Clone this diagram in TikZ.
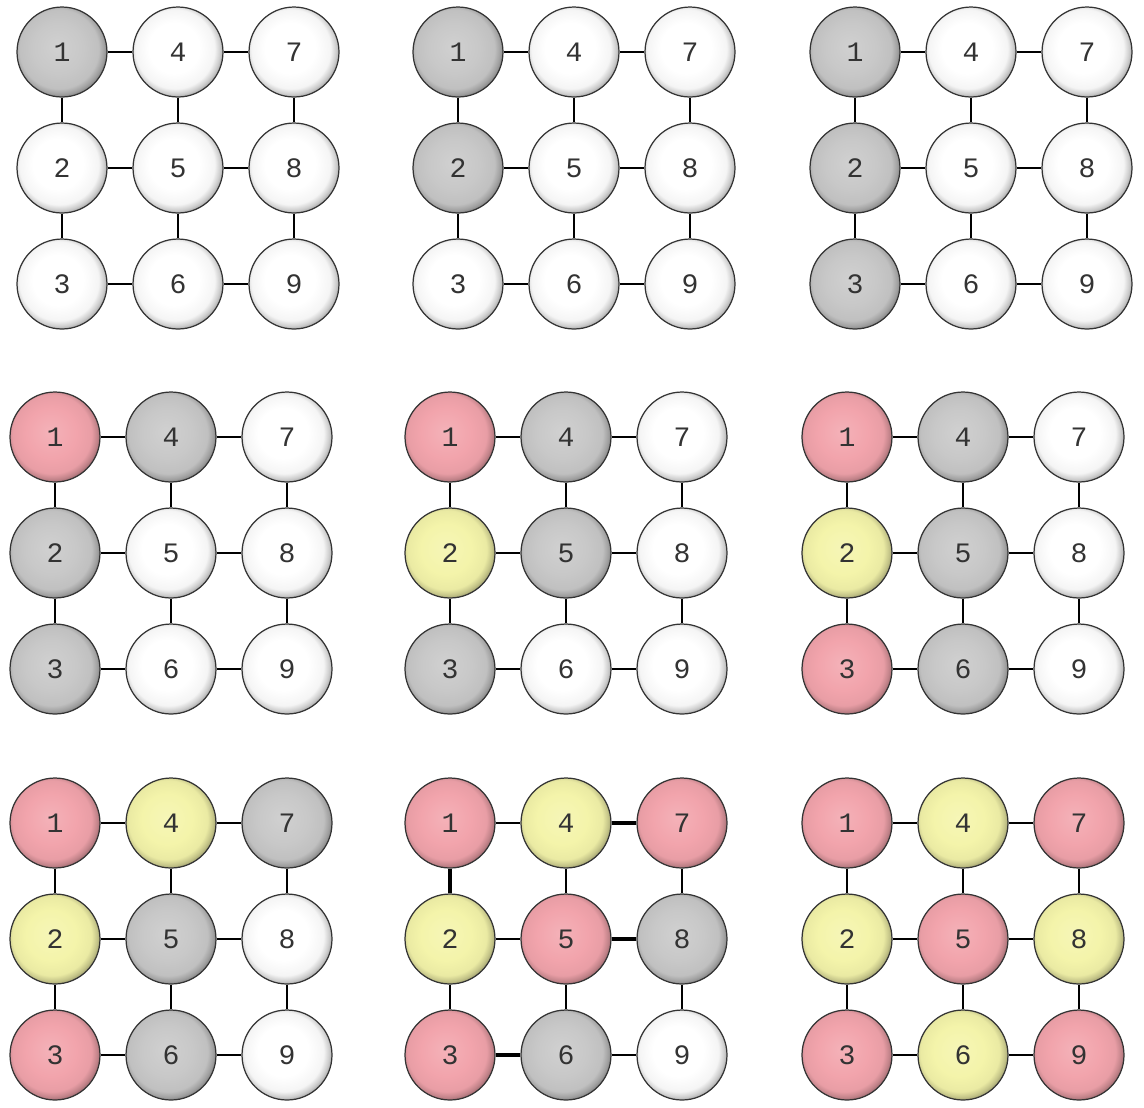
\documentclass[tikz,border=0pt]{standalone}
\usepackage{xcolor}
\usepackage{fontspec}
\usepackage{tikz}
\usetikzlibrary{positioning,calc}
\newfontfamily\ballfont{Liberation Mono}

\definecolor{ballw}{RGB}{255,255,255}
\definecolor{ballg}{RGB}{200,200,200}
\definecolor{ballr}{RGB}{242,164,172}
\definecolor{bally}{RGB}{244,244,170}
\colorlet{ballcol}{white}
% flat disc with a dark lower right rim
\pgfdeclareradialshading[ballcol]{disc}{\pgfqpoint{-3bp}{3bp}}{%
  color(0bp)=(ballcol!85!white); color(14bp)=(ballcol);
  color(22bp)=(ballcol!96!black); color(25bp)=(ballcol!80!black);
  color(29bp)=(ballcol!45!black); color(50bp)=(ballcol!45!black)}

\tikzset{
  ballcol/.code={\colorlet{ballcol}{#1}},
  ball/.style={circle,draw=black!80,line width=0.7pt,minimum size=1.8cm,
    inner sep=0pt,ballcol=#1,shading=disc,text=black!80,
    font=\ballfont\fontsize{16}{16}\selectfont},
  link/.style={line width=1.2pt},
  heavy link/.style={line width=2.2pt}
}

% one 3x3 grid: name, x and y of node 1, colours of nodes 1..9
\newcommand\gridpanel[4]{%
  \foreach \c [count=\k] in {#4} {
    \pgfmathtruncatemacro\col{(\k-1)/3}
    \pgfmathtruncatemacro\row{mod(\k-1,3)}
    \node[ball=ball\c] (#1-\k) at (#2+116*\col,#3+116*\row) {\k};
  }
  \foreach \a/\b in {1/4,4/7,2/5,5/8,3/6,6/9,1/2,2/3,4/5,5/6,7/8,8/9}
    \draw[link] (#1-\a) -- (#1-\b);
}

\begin{document}
\begin{tikzpicture}[x=0.02cm,y=-0.02cm]
  \useasboundingbox (0,0) rectangle (1144,1107);
  % first row
  \gridpanel{p1}{62}{52}{g,w,w,w,w,w,w,w,w}
  \gridpanel{p2}{458}{52}{g,g,w,w,w,w,w,w,w}
  \gridpanel{p3}{855}{52}{g,g,g,w,w,w,w,w,w}
  % second row
  \gridpanel{p4}{55}{437}{r,g,g,g,w,w,w,w,w}
  \gridpanel{p5}{450}{437}{r,y,g,g,g,w,w,w,w}
  \gridpanel{p6}{847}{437}{r,y,r,g,g,g,w,w,w}
  % third row
  \gridpanel{p7}{55}{823}{r,y,r,y,g,g,g,w,w}
  \gridpanel{p8}{450}{823}{r,y,r,y,r,g,r,g,w}
  \gridpanel{p9}{847}{823}{r,y,r,y,r,y,r,y,r}
  % heavier links
  \draw[heavy link] (p8-1) -- (p8-2);
  \draw[heavy link] (p8-4) -- (p8-7);
  \draw[heavy link] (p8-5) -- (p8-8);
  \draw[heavy link] (p8-3) -- (p8-6);
\end{tikzpicture}
\end{document}
